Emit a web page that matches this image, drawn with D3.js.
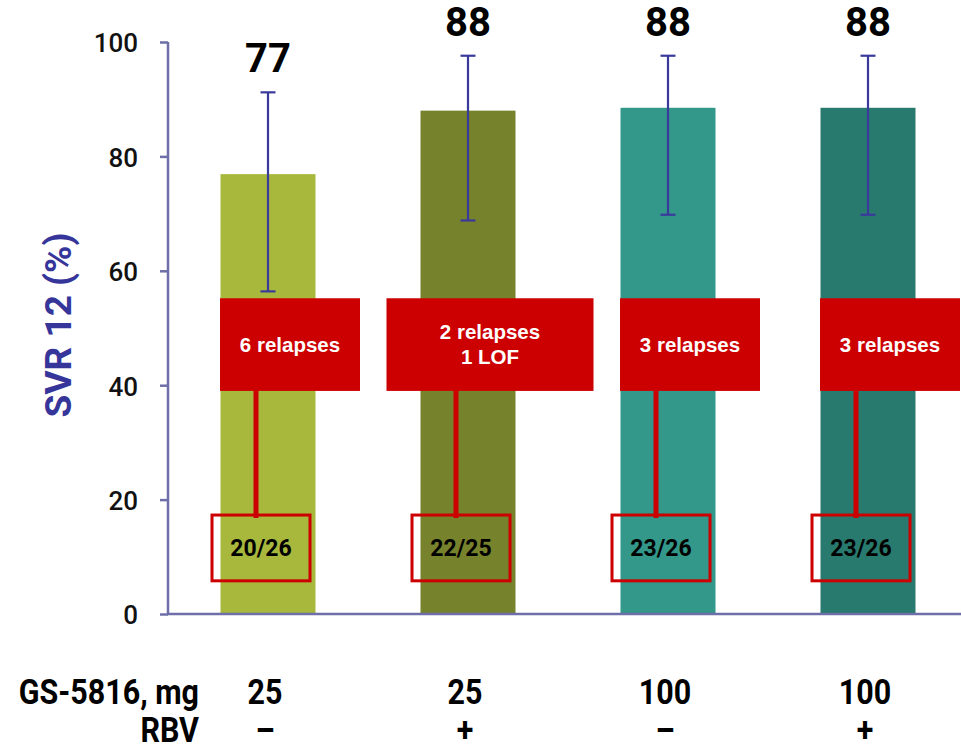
<!DOCTYPE html>
<html>
<head>
<meta charset="utf-8">
<script src="https://cdn.jsdelivr.net/npm/d3@7"></script>
<style>
  html, body { margin: 0; padding: 0; background: #fff; }
  svg { display: block; }
</style>
</head>
<body>
<svg id="chart"></svg>
<script>
// chart values
const groups = ['g1', 'g2', 'g3', 'g4']
const doseLabels = ['25', '25', '100', '100']
const rbvLabels = ['\u2013', '+', '\u2013', '+']
const svr = [76.9, 88.0, 88.5, 88.5]
const svrLabels = ['77', '88', '88', '88']
const ciLow = [56.4, 68.8, 69.8, 69.8]
const ciHigh = [91.2, 97.6, 97.6, 97.6]
const ratios = ['20/26', '22/25', '23/26', '23/26']
const relapseNotes = [['6 relapses'], ['2 relapses', '1 LOF'], ['3 relapses'], ['3 relapses']]
const yTicks = [0, 20, 40, 60, 80, 100]

const barColors = ['#a8b83c', '#77822c', '#33978a', '#287a6e']
const axisColor = '#6e6ea8'
const errColor = '#3a3a9c'
const red = '#cc0000'

let width = 961,
    height = 752

let $svg = d3.select('#chart')
    .attr('width', width)
    .attr('height', height)

let scaleX = d3.scaleBand().domain(groups).range([168, 968]).paddingInner(0.525).paddingOuter(0.2625)
let scaleY = d3.scaleLinear().domain([0, 100]).range([614, 42])
let cx = (i) => scaleX(groups[i]) + scaleX.bandwidth() / 2

// bars
$svg.append('g').selectAll('rect')
    .data(svr)
    .join('rect')
    .attr('x', (d, i) => scaleX(groups[i]))
    .attr('y', d => scaleY(d))
    .attr('width', scaleX.bandwidth())
    .attr('height', d => scaleY(0) - scaleY(d))
    .attr('fill', (d, i) => barColors[i])

// error bars
let $err = $svg.append('g')
    .attr('stroke', errColor)
    .attr('stroke-width', 2.2)
groups.forEach((g, i) => {
    let x = cx(i)
    $err.append('line')
        .attr('x1', x).attr('x2', x)
        .attr('y1', scaleY(ciLow[i])).attr('y2', scaleY(ciHigh[i]))
    ;[ciLow[i], ciHigh[i]].forEach(v => {
        $err.append('line')
            .attr('x1', x - 7.5).attr('x2', x + 7.5)
            .attr('y1', scaleY(v)).attr('y2', scaleY(v))
    })
})

// value labels
$svg.append('g').selectAll('text')
    .data(svrLabels)
    .join('text')
    .attr('x', (d, i) => cx(i))
    .attr('y', (d, i) => scaleY(ciHigh[i]) - 20)
    .attr('text-anchor', 'middle')
    .attr('font-family', 'Roboto, sans-serif')
    .attr('font-weight', 700)
    .attr('font-size', 40)
    .attr('fill', '#000')
    .text(d => d)

// y axis
let $yAxis = $svg.append('g')
    .attr('transform', 'translate(168,0)')
    .call(d3.axisLeft(scaleY).tickValues(yTicks).tickSize(8).tickPadding(22))
$yAxis.select('.domain').remove()
$yAxis.append('line')
    .attr('x1', 0).attr('x2', 0)
    .attr('y1', scaleY(100)).attr('y2', scaleY(0))
    .attr('stroke', axisColor).attr('stroke-width', 2.5)
$yAxis.selectAll('.tick line').attr('stroke', axisColor).attr('stroke-width', 2.5)
$yAxis.selectAll('.tick text')
    .attr('font-family', 'Roboto, sans-serif')
    .attr('font-weight', 500)
    .attr('font-size', 26)
    .attr('fill', '#111')
    .attr('dy', '0.38em')

// x baseline
$svg.append('line')
    .attr('x1', 167).attr('x2', width)
    .attr('y1', scaleY(0)).attr('y2', scaleY(0))
    .attr('stroke', axisColor).attr('stroke-width', 2.5)

// y title
$svg.append('text')
    .attr('transform', 'translate(71,' + (scaleY(50) - 3) + ') rotate(-90)')
    .attr('text-anchor', 'middle')
    .attr('font-family', 'Roboto, sans-serif')
    .attr('font-weight', 700)
    .attr('font-size', 37)
    .attr('fill', '#35359a')
    .text('SVR 12 (%)')

// relapse callouts
let $notes = $svg.append('g')
groups.forEach((g, i) => {
    let x = cx(i)
    let lines = relapseNotes[i]
    let boxW = lines.length > 1 ? 207 : 140
    let boxX = x + 22 - boxW / 2
    let top = scaleY(55.2), bottom = scaleY(39)
    // connector
    $notes.append('line')
        .attr('x1', x - 12).attr('x2', x - 12)
        .attr('y1', bottom - 2).attr('y2', scaleY(16.8))
        .attr('stroke', red).attr('stroke-width', 5)
    $notes.append('rect')
        .attr('x', boxX).attr('y', top)
        .attr('width', boxW).attr('height', bottom - top)
        .attr('fill', red)
    let midY = (top + bottom) / 2
    lines.forEach((t, k) => {
        $notes.append('text')
            .attr('x', boxX + boxW / 2)
            .attr('y', midY + (k - (lines.length - 1) / 2) * 25)
            .attr('dy', '0.36em')
            .attr('text-anchor', 'middle')
            .attr('font-family', '"Liberation Sans", Arial, sans-serif')
            .attr('font-weight', 700)
            .attr('font-size', 20.5)
            .attr('fill', '#fff')
            .text(t)
    })
    // ratio box
    let rTop = scaleY(17.3), rBottom = scaleY(5.8)
    $notes.append('rect')
        .attr('x', x - 7 - 49).attr('y', rTop)
        .attr('width', 98).attr('height', rBottom - rTop)
        .attr('fill', 'none')
        .attr('stroke', red).attr('stroke-width', 3)
    $notes.append('text')
        .attr('x', x - 7)
        .attr('y', (rTop + rBottom) / 2)
        .attr('dy', '0.36em')
        .attr('text-anchor', 'middle')
        .attr('font-family', 'Roboto, sans-serif')
        .attr('font-weight', 700)
        .attr('font-size', 23)
        .attr('fill', '#000')
        .text(ratios[i])
})

// bottom category rows, condensed by horizontal scaling
let squeeze = 0.87
let rows = [
    { title: 'GS-5816, mg', labels: doseLabels, y: 704 },
    { title: 'RBV', labels: rbvLabels, y: 742 }
]
function condensed(sel, x, y, anchor, t) {
    sel.append('text')
        .attr('transform', 'translate(' + x + ',' + y + ') scale(' + squeeze + ',1)')
        .attr('text-anchor', anchor)
        .attr('font-family', 'Roboto, sans-serif')
        .attr('font-weight', 700)
        .attr('font-size', 35)
        .attr('fill', '#000')
        .text(t)
}
rows.forEach(r => {
    condensed($svg, 199, r.y, 'end', r.title)
    r.labels.forEach((d, i) => condensed($svg, cx(i) - 3, r.y, 'middle', d))
})
</script>
</body>
</html>
